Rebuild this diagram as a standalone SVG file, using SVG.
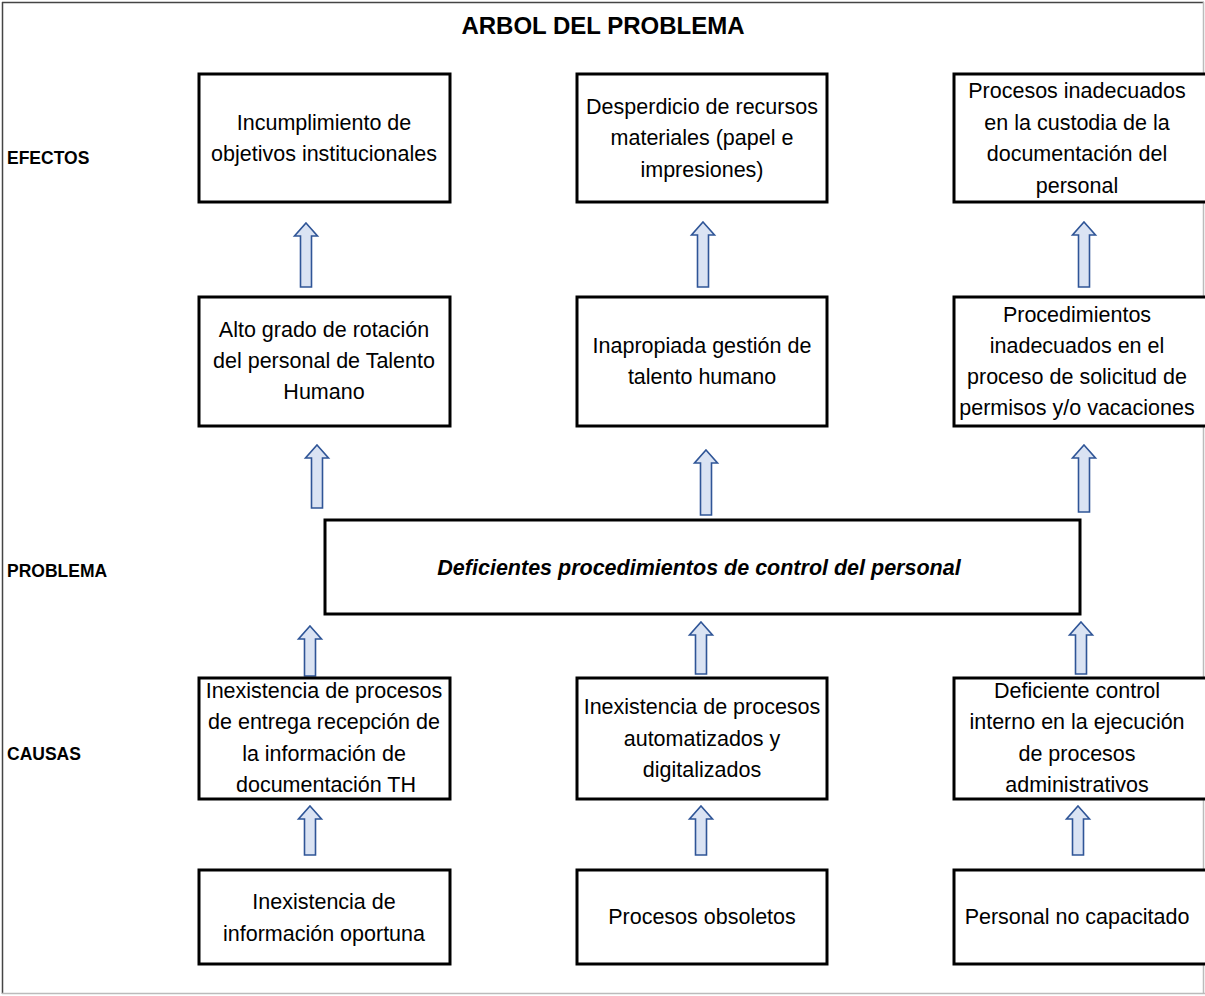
<svg xmlns="http://www.w3.org/2000/svg" width="1205" height="996" viewBox="0 0 1205 996">
<style>
.bx{fill:#fff;stroke:#000;stroke-width:3}
.t{font-family:"Liberation Sans",Arial,sans-serif;font-size:21.5px;fill:#000;text-anchor:middle}
.lb{font-family:"Liberation Sans",Arial,sans-serif;font-size:17.5px;font-weight:bold;fill:#000}
.ar{fill:#dae3f3;stroke:#2f5597;stroke-width:1.6;stroke-linejoin:miter}
</style>
<rect width="1205" height="996" fill="#fff"/>
<g id="frame">
<line x1="2.5" y1="2" x2="2.5" y2="994" stroke="#444" stroke-width="1.5"/>
<line x1="2" y1="2.5" x2="1204" y2="2.5" stroke="#444" stroke-width="1.5"/>
<line x1="2" y1="993.5" x2="1205" y2="993.5" stroke="#bbb" stroke-width="1.5"/>
<line x1="1203.5" y1="2" x2="1203.5" y2="994" stroke="#bbb" stroke-width="1.5"/>
</g>
<text x="603" y="34" font-family="'Liberation Sans',Arial,sans-serif" font-size="24" font-weight="bold" text-anchor="middle">ARBOL DEL PROBLEMA</text>
<g id="labels">
<text class="lb" x="7" y="164">EFECTOS</text>
<text class="lb" x="7" y="577">PROBLEMA</text>
<text class="lb" x="7" y="760">CAUSAS</text>
</g>
<g id="connectors">
<path class="ar" d="M306,223 L317.5,236 L311.5,236 L311.5,287 L300.5,287 L300.5,236 L294.5,236 Z"/>
<path class="ar" d="M703,222 L714.5,235 L708.5,235 L708.5,287 L697.5,287 L697.5,235 L691.5,235 Z"/>
<path class="ar" d="M1084,222 L1095.5,235 L1089.5,235 L1089.5,287 L1078.5,287 L1078.5,235 L1072.5,235 Z"/>
<path class="ar" d="M317,445 L328.5,458 L322.5,458 L322.5,508 L311.5,508 L311.5,458 L305.5,458 Z"/>
<path class="ar" d="M706,450 L717.5,463 L711.5,463 L711.5,515 L700.5,515 L700.5,463 L694.5,463 Z"/>
<path class="ar" d="M1084,445 L1095.5,458 L1089.5,458 L1089.5,512 L1078.5,512 L1078.5,458 L1072.5,458 Z"/>
<path class="ar" d="M310,626 L321.5,639 L315.5,639 L315.5,676 L304.5,676 L304.5,639 L298.5,639 Z"/>
<path class="ar" d="M701,622 L712.5,635 L706.5,635 L706.5,674 L695.5,674 L695.5,635 L689.5,635 Z"/>
<path class="ar" d="M1081,622 L1092.5,635 L1086.5,635 L1086.5,674 L1075.5,674 L1075.5,635 L1069.5,635 Z"/>
<path class="ar" d="M310,806 L321.5,819 L315.5,819 L315.5,855 L304.5,855 L304.5,819 L298.5,819 Z"/>
<path class="ar" d="M701,806 L712.5,819 L706.5,819 L706.5,855 L695.5,855 L695.5,819 L689.5,819 Z"/>
<path class="ar" d="M1078,806 L1089.5,819 L1083.5,819 L1083.5,855 L1072.5,855 L1072.5,819 L1066.5,819 Z"/>
</g>
<g id="e1"><rect class="bx" x="199" y="74" width="251" height="128"/>
<text class="t" x="324" y="130">Incumplimiento de</text>
<text class="t" x="324" y="161">objetivos institucionales</text></g>
<g id="e2"><rect class="bx" x="577" y="74" width="250" height="128"/>
<text class="t" x="702" y="114">Desperdicio de recursos</text>
<text class="t" x="702" y="145">materiales (papel e</text>
<text class="t" x="702" y="177">impresiones)</text></g>
<g id="e3"><rect class="bx" x="954" y="74" width="260" height="128"/>
<text class="t" x="1077" y="98">Procesos inadecuados</text>
<text class="t" x="1077" y="130">en la custodia de la</text>
<text class="t" x="1077" y="161">documentación del</text>
<text class="t" x="1077" y="193">personal</text></g>
<g id="m1"><rect class="bx" x="199" y="297" width="251" height="129"/>
<text class="t" x="324" y="337">Alto grado de rotación</text>
<text class="t" x="324" y="368">del personal de Talento</text>
<text class="t" x="324" y="399">Humano</text></g>
<g id="m2"><rect class="bx" x="577" y="297" width="250" height="129"/>
<text class="t" x="702" y="353">Inapropiada gestión de</text>
<text class="t" x="702" y="384">talento humano</text></g>
<g id="m3"><rect class="bx" x="954" y="297" width="260" height="129"/>
<text class="t" x="1077" y="322">Procedimientos</text>
<text class="t" x="1077" y="353">inadecuados en el</text>
<text class="t" x="1077" y="384">proceso de solicitud de</text>
<text class="t" x="1077" y="415">permisos y/o vacaciones</text></g>
<g id="problem"><rect class="bx" x="325" y="520" width="755" height="94"/>
<text class="t" x="699" y="575" font-weight="bold" font-style="italic">Deficientes procedimientos de control del personal</text></g>
<g id="c1"><rect class="bx" x="199" y="678" width="251" height="121"/>
<text class="t" x="324" y="698">Inexistencia de procesos</text>
<text class="t" x="324" y="729">de entrega recepción de</text>
<text class="t" x="324" y="761">la información de</text>
<text class="t" x="326" y="792">documentación TH</text></g>
<g id="c2"><rect class="bx" x="577" y="678" width="250" height="121"/>
<text class="t" x="702" y="714">Inexistencia de procesos</text>
<text class="t" x="702" y="746">automatizados y</text>
<text class="t" x="702" y="777">digitalizados</text></g>
<g id="c3"><rect class="bx" x="954" y="678" width="260" height="121"/>
<text class="t" x="1077" y="698">Deficiente control</text>
<text class="t" x="1077" y="729">interno en la ejecución</text>
<text class="t" x="1077" y="761">de procesos</text>
<text class="t" x="1077" y="792">administrativos</text></g>
<g id="r1"><rect class="bx" x="199" y="870" width="251" height="94"/>
<text class="t" x="324" y="909">Inexistencia de</text>
<text class="t" x="324" y="941">información oportuna</text></g>
<g id="r2"><rect class="bx" x="577" y="870" width="250" height="94"/>
<text class="t" x="702" y="924">Procesos obsoletos</text></g>
<g id="r3"><rect class="bx" x="954" y="870" width="260" height="94"/>
<text class="t" x="1077" y="924">Personal no capacitado</text></g>
</svg>
